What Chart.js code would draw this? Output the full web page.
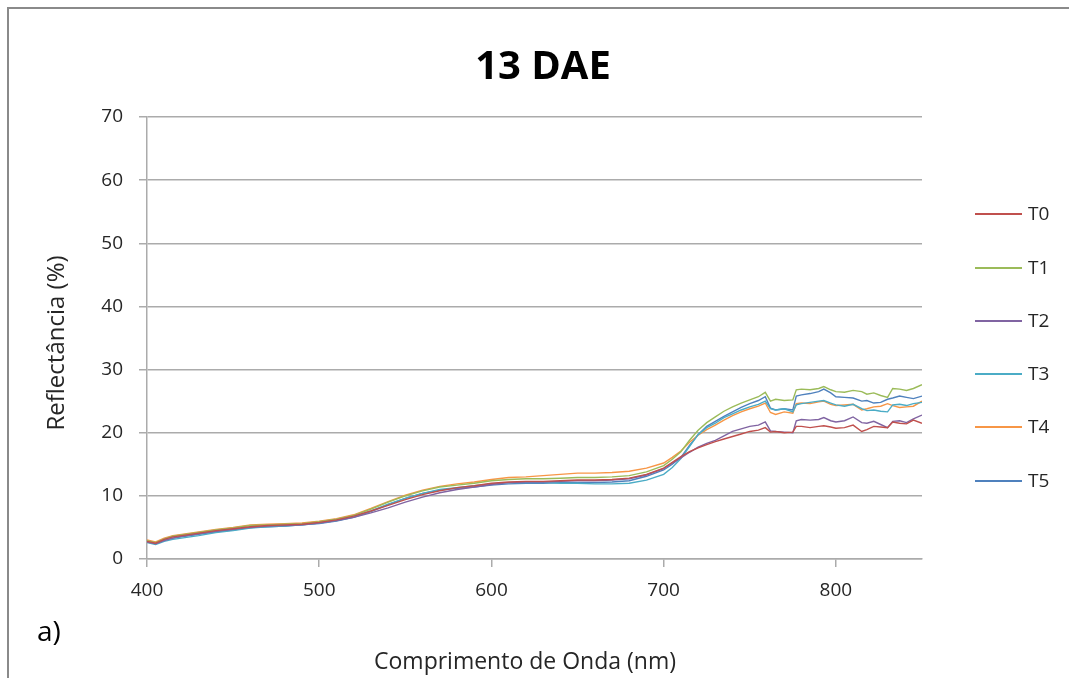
<!DOCTYPE html>
<html>
<head>
<meta charset="utf-8">
<script src="https://cdn.jsdelivr.net/npm/chart.js@4.4.1/dist/chart.umd.min.js"></script>
<style>
  html, body { margin: 0; padding: 0; background: #ffffff; }
  #c { display: block; }
</style>
</head>
<body>
<canvas id="c" width="1069" height="678"></canvas>
<script>
// ---- data ----
const chartTitle = "13 DAE";
const xTitle = "Comprimento de Onda (nm)";
const yTitle = "Reflectância (%)";
const panelLabel = "a)";
const seriesNames = ["T0", "T1", "T2", "T3", "T4", "T5"];
const seriesColors = ["#C0504D", "#9BBB59", "#8064A2", "#4BACC6", "#F79646", "#4F81BD"];
const xTicks = [400, 500, 600, 700, 800];
const yTicks = [0, 10, 20, 30, 40, 50, 60, 70];

const wavelengths = [400,405,410,415,420,430,440,450,460,470,480,490,500,510,520,530,540,550,560,570,580,590,600,610,620,630,640,650,660,670,680,690,700,705,710,715,720,725,730,735,740,745,750,755,759,762,765,770,775,777,780,785,790,793,797,800,805,810,815,818,822,826,830,833,837,841,845,850];

const t0 = [2.8,2.5,3.1,3.5,3.7,4.1,4.5,4.8,5.1,5.3,5.4,5.5,5.8,6.2,6.8,7.6,8.5,9.4,10.2,10.8,11.3,11.6,12.0,12.2,12.3,12.3,12.4,12.5,12.5,12.6,12.8,13.4,14.4,15.3,16.2,17.0,17.6,18.1,18.6,19.0,19.4,19.8,20.2,20.4,20.8,20.1,20.2,20.0,20.1,21.0,21.0,20.8,21.0,21.1,20.9,20.7,20.8,21.2,20.2,20.5,21.0,20.9,20.8,21.7,21.5,21.4,22.0,21.5];
const t1 = [2.9,2.6,3.2,3.6,3.8,4.2,4.6,4.9,5.3,5.4,5.5,5.6,5.9,6.3,6.9,7.9,9.0,10.0,10.8,11.4,11.7,12.0,12.4,12.6,12.7,12.7,12.8,12.9,12.9,13.0,13.2,13.8,14.8,15.8,17.0,18.8,20.4,21.6,22.5,23.4,24.1,24.7,25.2,25.7,26.4,25.0,25.3,25.1,25.2,26.8,26.9,26.8,27.0,27.3,26.8,26.5,26.4,26.7,26.5,26.1,26.3,25.9,25.6,27.0,26.9,26.7,27.0,27.6];
const t2 = [2.7,2.4,2.9,3.3,3.6,4.0,4.4,4.7,5.0,5.2,5.3,5.4,5.7,6.1,6.6,7.3,8.1,9.0,9.8,10.5,11.0,11.4,11.8,12.1,12.2,12.2,12.3,12.4,12.4,12.5,12.7,13.3,14.3,15.2,16.0,16.9,17.7,18.3,18.8,19.5,20.2,20.6,21.0,21.2,21.7,20.3,20.2,20.1,20.0,21.9,22.1,22.0,22.1,22.4,21.9,21.7,21.9,22.5,21.6,21.5,21.8,21.3,20.8,21.8,21.9,21.6,22.2,22.8];
const t3 = [2.6,2.3,2.8,3.1,3.3,3.7,4.2,4.5,4.9,5.1,5.2,5.4,5.7,6.1,6.7,7.6,8.7,9.6,10.4,11.0,11.3,11.6,11.9,12.1,12.1,12.1,12.0,12.0,11.9,11.9,12.0,12.5,13.4,14.5,15.9,17.8,19.7,20.8,21.5,22.4,23.0,23.6,24.1,24.5,25.0,23.8,23.6,23.8,23.3,24.4,24.6,24.8,25.0,25.1,24.7,24.4,24.2,24.5,23.8,23.5,23.6,23.4,23.3,24.4,24.5,24.3,24.6,24.8];
const t4 = [3.0,2.7,3.3,3.7,3.9,4.3,4.7,5.0,5.4,5.5,5.6,5.7,6.0,6.4,7.0,8.0,9.1,10.1,10.9,11.5,11.9,12.2,12.6,12.9,13.0,13.2,13.4,13.6,13.6,13.7,13.9,14.4,15.2,16.1,17.1,18.5,19.6,20.5,21.2,22.0,22.7,23.3,23.8,24.2,24.7,23.2,22.9,23.3,23.1,24.6,24.7,24.6,24.9,25.0,24.5,24.3,24.4,24.5,23.6,23.8,24.1,24.2,24.6,24.3,24.0,24.1,24.2,25.0];
const t5 = [2.8,2.5,3.0,3.3,3.5,3.9,4.3,4.6,5.0,5.1,5.2,5.4,5.6,6.0,6.6,7.5,8.6,9.6,10.4,10.9,11.2,11.4,11.7,11.9,12.0,12.0,12.1,12.1,12.1,12.2,12.4,13.1,14.1,15.0,16.1,18.0,19.7,21.0,21.8,22.6,23.3,24.0,24.6,25.1,25.7,23.9,23.6,23.8,23.6,25.8,26.0,26.2,26.5,26.9,26.3,25.7,25.6,25.5,25.0,25.1,24.7,24.8,25.3,25.5,25.8,25.6,25.4,25.8];

const seriesValues = [t0, t1, t2, t3, t4, t5];

// ---- chart ----
const FONT = "'Open Sans', 'DejaVu Sans', sans-serif";
const TEXT = "#262626";
const GRID = "#ababab";

const datasets = seriesNames.map((name, i) => ({
  label: name,
  data: wavelengths.map((w, k) => ({ x: w, y: seriesValues[i][k] })),
  borderColor: seriesColors[i],
  backgroundColor: seriesColors[i],
  borderWidth: 1.4,
  pointRadius: 0,
  tension: 0,
  fill: false
}));

const decor = {
  id: 'decor',
  beforeDraw(chart) {
    const c = chart.ctx;
    c.save();
    c.fillStyle = '#ffffff';
    c.fillRect(0, 0, chart.width, chart.height);
    c.restore();
  },
  afterDraw(chart) {
    const c = chart.ctx;
    c.save();
    // outer frame (left and top visible)
    c.strokeStyle = '#8a8a8a';
    c.lineWidth = 2;
    c.beginPath();
    c.moveTo(8, chart.height + 2);
    c.lineTo(8, 8);
    c.lineTo(chart.width + 2, 8);
    c.stroke();

    c.fillStyle = '#000000';
    c.textAlign = 'center';
    c.textBaseline = 'alphabetic';
    c.font = "bold 40px " + FONT;
    c.fillText(chartTitle, 543, 79);

    c.fillStyle = TEXT;
    c.font = "23px " + FONT;
    c.textBaseline = 'middle';
    c.fillText(xTitle, 525, 662);

    c.save();
    c.translate(57, 343);
    c.rotate(-Math.PI / 2);
    c.font = "24px " + FONT;
    c.fillText(yTitle, 0, 0);
    c.restore();

    c.fillStyle = '#000000';
    c.font = "28px " + FONT;
    c.textAlign = 'left';
    c.fillText(panelLabel, 37, 633);

    // legend
    const ly = [214, 268, 321, 374, 427, 481];
    c.font = "19px " + FONT;
    c.fillStyle = TEXT;
    seriesNames.forEach((n, i) => {
      c.strokeStyle = seriesColors[i];
      c.lineWidth = 2;
      c.beginPath();
      c.moveTo(975, ly[i]);
      c.lineTo(1022, ly[i]);
      c.stroke();
      c.fillText(n, 1028, ly[i] + 1);
    });
    c.restore();
  }
};

new Chart(document.getElementById('c'), {
  type: 'line',
  data: { datasets },
  options: {
    responsive: false,
    animation: false,
    devicePixelRatio: 1,
    layout: { padding: { left: 0, top: 117, right: 147, bottom: 0 } },
    plugins: {
      legend: { display: false },
      title: { display: false },
      tooltip: { enabled: false }
    },
    scales: {
      x: {
        type: 'linear',
        min: 400,
        max: 850,
        afterFit: s => { s.height = 119; },
        afterBuildTicks: s => { s.ticks = xTicks.map(v => ({ value: v })); },
        ticks: {
          includeBounds: false,
          color: TEXT,
          padding: 12,
          maxRotation: 0,
          font: { family: FONT, size: 19 }
        },
        grid: {
          drawOnChartArea: false,
          drawTicks: true,
          tickLength: 8,
          color: GRID,
          lineWidth: 1.5
        },
        border: { color: GRID, width: 1.5 }
      },
      y: {
        type: 'linear',
        min: 0,
        max: 70,
        afterFit: s => { s.width = 147; },
        afterBuildTicks: s => { s.ticks = yTicks.map(v => ({ value: v })); },
        ticks: {
          color: TEXT,
          padding: 16,
          font: { family: FONT, size: 19 }
        },
        grid: {
          drawOnChartArea: true,
          drawTicks: true,
          tickLength: 8,
          color: GRID,
          lineWidth: 1.5
        },
        border: { color: GRID, width: 1.5 }
      }
    }
  },
  plugins: [decor]
});
</script>
</body>
</html>
